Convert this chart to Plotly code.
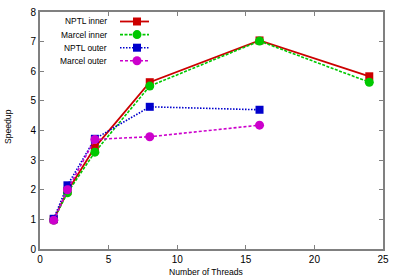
import plotly.graph_objects as go

threads_inner = [1, 2, 4, 8, 16, 24]
threads_outer = [1, 2, 4, 8, 16]
nptl_inner = [1.0, 1.95, 3.43, 5.63, 7.04, 5.83]
marcel_inner = [0.98, 1.9, 3.27, 5.5, 7.02, 5.63]
nptl_outer = [1.02, 2.15, 3.72, 4.8, 4.7]
marcel_outer = [0.97, 2.0, 3.7, 3.79, 4.18]

names = ["NPTL inner", "Marcel inner", "NPTL outer", "Marcel outer"]
colors = ["#cc0000", "#00c800", "#0000cc", "#cc00cc"]
dashes = ["solid", "3px,1.5px", "1.5px,1.5px", "3px,2px"]
symbols = ["square", "circle", "square", "circle"]
xs = [threads_inner, threads_inner, threads_outer, threads_outer]
ys = [nptl_inner, marcel_inner, nptl_outer, marcel_outer]

FONT = "Liberation Sans, Arial, sans-serif"
fig = go.Figure()
for name, c, d, s, x, y in zip(names, colors, dashes, symbols, xs, ys):
    fig.add_trace(go.Scatter(
        x=x, y=y, name=name, mode="lines+markers",
        line=dict(color=c, width=1.8 if d == "solid" else 1.6, dash=d),
        marker=dict(symbol=s, size=8 if s == "square" else 9, color=c),
        showlegend=False, cliponaxis=False, hoverinfo="skip"))

# plot area in pixels: x 40..383, y 12..249  (paper coords derived)
L, R, T, B = 40, 17, 12, 31
PW, PH = 400 - L - R, 280 - T - B


def px(xp):
    return (xp - L) / PW


def py(yp):
    return (280 - B - yp) / PH


# gnuplot-style legend: right-aligned text, sample on the right
for i, (name, c, d, s) in enumerate(zip(names, colors, dashes, symbols)):
    yp = py(21.5 + i * 13.1)
    fig.add_annotation(x=px(109), y=yp, xref="paper", yref="paper", text=name,
                       showarrow=False, xanchor="right", yanchor="middle",
                       font=dict(size=8.4, color="#000", family=FONT))
    fig.add_shape(type="line", xref="paper", yref="paper",
                  x0=px(120), x1=px(149), y0=yp, y1=yp,
                  line=dict(color=c, width=1.8 if d == "solid" else 1.6, dash=d))
    hp = 4 if s == "square" else 4.5
    fig.add_shape(type="rect" if s == "square" else "circle",
                  xref="paper", yref="paper",
                  x0=px(137 - hp), x1=px(137 + hp),
                  y0=yp - hp / PH, y1=yp + hp / PH, line=dict(width=0), fillcolor=c)

fig.add_annotation(x=px(206), y=py(272), xref="paper", yref="paper",
                   text="Number of Threads", showarrow=False,
                   xanchor="center", yanchor="middle",
                   font=dict(size=8.6, color="#000", family=FONT))
fig.add_annotation(x=px(8), y=py(127), xref="paper", yref="paper",
                   text="Speedup", showarrow=False, textangle=-90,
                   xanchor="center", yanchor="middle",
                   font=dict(size=8.6, color="#000", family=FONT))

axis_common = dict(showgrid=False, zeroline=False, showline=True, mirror="ticks",
                   linecolor="#808080", linewidth=2, ticks="inside", ticklen=4,
                   tickcolor="#808080", tickwidth=1, automargin=False,
                   tickfont=dict(size=10, color="#000", family=FONT))
fig.update_xaxes(range=[0, 25], tickvals=[0, 5, 10, 15, 20, 25], **axis_common)
fig.update_yaxes(range=[0, 8], tickvals=list(range(9)), **axis_common)
fig.update_layout(width=400, height=280, margin=dict(l=L, r=R, t=T, b=B),
                  plot_bgcolor="white", paper_bgcolor="white",
                  font=dict(family=FONT, size=8.5, color="#000"))
fig.write_html("out.html", post_script="document.body.style.margin='0';",
               config={"displayModeBar": False})
